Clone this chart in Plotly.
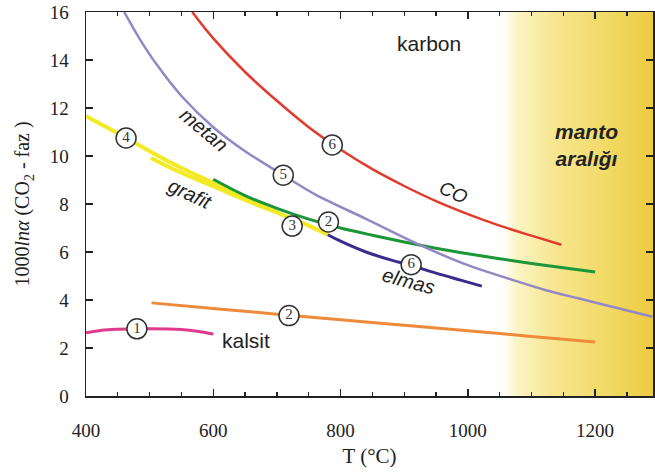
import plotly.graph_objects as go

# ---- data ----
co_T = [567, 600, 650, 700, 750, 800, 850, 900, 950, 1000, 1050, 1100, 1147]
co_v = [16.0, 14.9, 13.5, 12.3, 11.2, 10.27, 9.45, 8.75, 8.12, 7.58, 7.1, 6.68, 6.3]

metan_T = [460, 485, 510, 550, 600, 650, 710, 760, 840, 920, 1000, 1070, 1120, 1175, 1230, 1290]
metan_v = [16.0, 14.85, 13.85, 12.5, 11.2, 10.2, 9.2, 8.4, 7.38, 6.35, 5.45, 4.84, 4.43, 4.06, 3.7, 3.3]

green_T = [600, 650, 700, 750, 800, 850, 900, 950, 1000, 1050, 1100, 1150, 1200]
green_v = [9.03, 8.35, 7.82, 7.37, 7.0, 6.7, 6.42, 6.16, 5.93, 5.72, 5.52, 5.34, 5.17]

grafA_T = [400, 450, 500, 550, 600, 650, 700, 750, 780]
grafA_v = [11.66, 10.95, 10.2, 9.5, 8.88, 8.25, 7.65, 7.1, 6.72]

grafB_T = [502, 550, 600, 650, 700]
grafB_v = [9.92, 9.3, 8.74, 8.17, 7.65]

elmas_T = [780, 800, 840, 880, 910, 950, 990, 1022]
elmas_v = [6.72, 6.45, 6.0, 5.66, 5.45, 5.12, 4.82, 4.58]

orange_T = [503, 600, 700, 800, 900, 1000, 1100, 1200]
orange_v = [3.88, 3.65, 3.41, 3.18, 2.95, 2.72, 2.48, 2.25]

kalsit_T = [400, 425, 450, 500, 550, 575, 600]
kalsit_v = [2.63, 2.74, 2.78, 2.8, 2.77, 2.7, 2.58]

circ_T = [480, 719, 781, 724, 463, 710, 787, 911]
circ_v = [2.8, 3.35, 7.25, 7.08, 10.75, 9.2, 10.46, 5.47]
circ_txt = ["1", "2", "2", "3", "4", "5", "6", "6"]

x_ticks = [400, 600, 800, 1000, 1200]
y_ticks = [0, 2, 4, 6, 8, 10, 12, 14, 16]

mantle_T = [1045, 1291]

SERIF = "Liberation Serif, Times New Roman, serif"
SANS = "Liberation Sans, Arial, sans-serif"

fig = go.Figure()

# mantle gradient band
fig.add_trace(go.Scatter(
    x=[mantle_T[0], mantle_T[1], mantle_T[1], mantle_T[0], mantle_T[0]],
    y=[0, 0, 16, 16, 0], mode="none", fill="toself",
    fillgradient=dict(type="horizontal", colorscale=[
        [0, "rgba(255,255,255,0)"], [0.12, "#fcf5c8"], [0.35, "#f7e793"],
        [0.7, "#f2da66"], [1, "#eecb40"]]),
    hoverinfo="skip", showlegend=False))

def line(x, y, color, w):
    fig.add_trace(go.Scatter(x=x, y=y, mode="lines",
                             line=dict(color=color, width=w, shape="spline", smoothing=1),
                             showlegend=False, hoverinfo="skip"))

line(grafA_T, grafA_v, "#f2ea25", 4)
line(grafB_T, grafB_v, "#f2ea25", 4)
line(green_T, green_v, "#1b9638", 3)
line(elmas_T, elmas_v, "#3a2b8c", 3)
line(metan_T, metan_v, "#9487c6", 2.5)
line(co_T, co_v, "#e23b2e", 2.5)
line(orange_T, orange_v, "#ee8a3a", 3)
line(kalsit_T, kalsit_v, "#e03a8e", 3)

fig.add_trace(go.Scatter(
    x=circ_T, y=circ_v, mode="markers+text", text=circ_txt,
    textposition="middle center",
    textfont=dict(family=SERIF, size=15, color="#333"),
    marker=dict(size=20, color="white", line=dict(color="#333", width=1.5)),
    showlegend=False, hoverinfo="skip"))

anns = [
    dict(x=939, y=14.7, text="karbon", size=21, angle=0),
    dict(x=586, y=11.08, text="<i>metan</i>", size=20, angle=40),
    dict(x=564, y=8.4, text="<i>grafit</i>", size=20, angle=25),
    dict(x=978, y=8.46, text="<i>CO</i>", size=19, angle=25),
    dict(x=907, y=4.8, text="<i>elmas</i>", size=20, angle=15),
    dict(x=651, y=2.31, text="kalsit", size=21, angle=0),
    dict(x=1186, y=10.46, text="<b><i>manto<br>aralığı</i></b>", size=21, angle=0),
]
for a in anns:
    fig.add_annotation(x=a["x"], y=a["y"], text=a["text"],
                       font=dict(family=SANS, size=a["size"], color="#222"),
                       textangle=a["angle"], showarrow=False, xref="x", yref="y")

fig.update_layout(
    width=655, height=476, autosize=False,
    margin=dict(l=86, r=0, t=12, b=80),
    paper_bgcolor="white", plot_bgcolor="white",
    font=dict(family=SERIF, size=19, color="#222"),
    xaxis=dict(range=[400, 1291], tickvals=x_ticks, ticks="inside", ticklen=7,
               tickwidth=1.5, tickcolor="#222", showline=True, linecolor="#222",
               linewidth=1.5, mirror="ticks", showgrid=False, zeroline=False,
               ticklabelstandoff=17,
               minor=dict(dtick=50, ticks="inside", ticklen=4, tickwidth=1.2, tickcolor="#222", showgrid=False),
               title=dict(text="T (°C)", font=dict(family=SERIF, size=21), standoff=8)),
    yaxis=dict(range=[0, 16], tickvals=y_ticks, ticks="inside", ticklen=7,
               tickwidth=1.5, tickcolor="#222", showline=True, linecolor="#222",
               linewidth=1.5, mirror="ticks", showgrid=False, zeroline=False,
               ticklabelstandoff=12,
               title=dict(text="1000<i>lnα</i> (CO<sub>2</sub> - faz )", font=dict(family=SERIF, size=20), standoff=14)),
)

fig.write_html("out.html",
               config={"displayModeBar": False, "staticPlot": True},
               post_script="document.body.style.margin='0';document.body.style.overflow='hidden';")
